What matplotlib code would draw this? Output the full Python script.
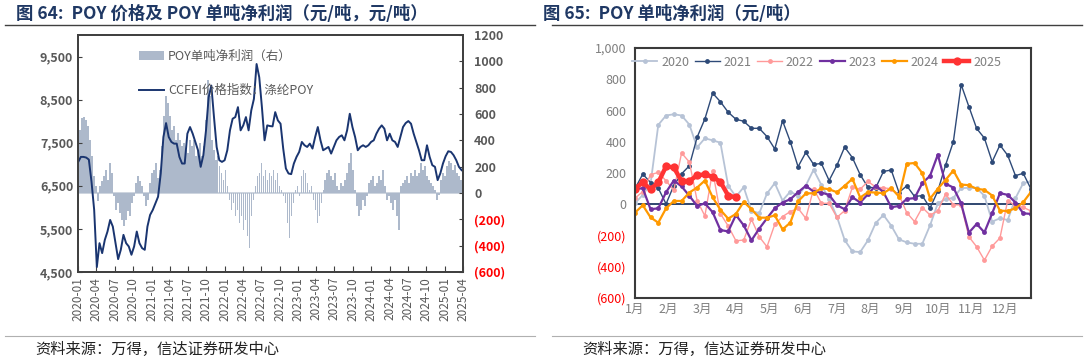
import numpy as np
import pandas as pd
import matplotlib
matplotlib.use("Agg")
import matplotlib.pyplot as plt
import matplotlib.dates as mdates
from matplotlib.lines import Line2D

plt.rcParams["font.family"] = ["Noto Sans CJK SC", "DejaVu Sans"]
plt.rcParams["axes.unicode_minus"] = False

# ---------------- 图64 数据：CCFEI 涤纶POY价格（元/吨），约半月一点
price = [7055, 7171, 7171, 7156, 7109, 6594, 5939, 4615, 5169, 4938, 5246, 5439,
         5708, 5554, 5169, 4799, 5015, 5362, 5169, 5092, 4900, 5092, 5439, 5169,
         5054, 5015, 5554, 5824, 5939, 6093, 6247, 6786, 7633, 7956, 7633, 7518,
         7479, 7479, 7171, 7017, 7017, 7710, 7864, 7710, 7518, 7325, 6940, 7210,
         7787, 8557, 8827, 8095, 7402, 7094, 7055, 7094, 7325, 7787, 8057, 8095,
         8326, 7787, 7903, 8095, 7787, 8249, 8518, 9327, 9019, 8326, 7556, 7903,
         7887, 7879, 8210, 8018, 7941, 7364, 6902, 6786, 6771, 7017, 7171, 7287,
         7518, 7441, 7402, 7479, 7364, 7633, 7864, 7556, 7325, 7364, 7402, 7248,
         7402, 7556, 7633, 7672, 7556, 7787, 8172, 7864, 7633, 7325, 7402, 7441,
         7402, 7441, 7518, 7556, 7710, 7825, 7903, 7825, 7556, 7710, 7556, 7518,
         7402, 7633, 7864, 7956, 8003, 7941, 7710, 7518, 7325, 7094, 7094, 7441,
         7171, 6979, 6940, 6632, 6786, 7017, 7186, 7302, 7287, 7210, 7094, 6940,
         6863]

# POY单吨净利润（元/吨，右轴），约10天一点
profit = [-51, 482, 570, 578, 558, 507, 406, 279, 127, 51, -63, 51,
          89, 127, 178, 101, 228, 152, -25, -127, -76, -152, -203, -254,
          -203, -140, -178, -76, -25, 76, 127, 89, 51, -25, -101, -51,
          76, 152, 178, 228, 114, 178, 355, 583, 735, 685, 583, 482,
          507, 406, 456, 406, 355, 380, 329, 304, 406, 355, 406, 279,
          329, 380, 279, 355, 558, 862, 735, 406, 329, 254, 279, 203,
          152, 101, 178, 51, -51, -127, -76, -178, -127, -228, -178, -279,
          -203, -330, -419, -178, -51, 51, 127, 152, 228, 127, 178, 101,
          152, 127, 178, 101, 152, 51, 25, -25, -76, -228, -342, -178,
          -76, 25, 51, -25, 127, 178, 152, 76, 25, 51, -51, -127,
          -228, -178, -76, 25, 101, 152, 178, 127, 101, 152, 51, 25,
          76, 51, 101, 152, 228, 304, 178, 25, -101, -178, -127, -51,
          -101, -25, 76, 101, 127, 51, 76, 127, 101, 178, 51, -51,
          -25, -76, -127, -51, -178, -279, 51, 76, 101, 127, 76, 152,
          127, 178, 127, 152, 228, 178, 203, 127, 101, 76, 51, 25,
          -51, -13, 101, 152, 127, 203, 241, 228, 178, 216, 152, 127,
          101, 51]

left_ticks = [4500, 5500, 6500, 7500, 8500, 9500]
left_ticklabels = ["4,500", "5,500", "6,500", "7,500", "8,500", "9,500"]
right_ticks = [-600, -400, -200, 0, 200, 400, 600, 800, 1000, 1200]
right_ticklabels = ["(600)", "(400)", "(200)", "0", "200", "400", "600", "800", "1000", "1200"]

# ---------------- 图65 数据：POY单吨净利润（元/吨），按周
y2020 = [6, 60, 130, 508, 568, 576, 568, 510, 364, 422, 409, 394, 118, 49, 109, -41,
         -58, 69, 135, 24, 81, 54, 120, 221, 124, 32,
         -79, -229, -302, -306, -231, -120, -69, -137, -225, -244, -253, -253, -135,
         6, 32, 41, 103, 105, 103, 54, -111, -90, -101, 39, 135, 146]
y2021 = [100, 193, 139, 103, 2, 120, 195, 246, 429, 546, 711, 656, 589, 544, 531, 486,
         486, 433, 354, 534, 401, 240, 332, 255, 261, 152, 249, 366, 298, 189, 109,
         105, 210, 219, 75, 118, 50, 55, -24, 85, 251, 400, 766, 625, 485, 423, 272,
         379, 313, 183, 198, 97]
y2022 = [39, 81, 189, 204, 150, 90, 328, 270, 24, -75, 214, -60, -139, -234, -229, -96,
         -208, -272, -129, -79, -47, -26, -90, 99, 6, 6,
         -84, -41, 109, 96, 146, 110, 105, 99, 60, -54, -111, -21, -69, -43, 66, -4,
         -4, -208, -272, -358, -268, -216, 24, -9, -20, -43]
y2023 = [96, 103, -32, -26, 77, 152, 114, 54, -11, 6, -51, -165, -174, -69, -135, -231,
         -156, -90, -26, 11, 32, 77, 118, 81, 75,
         60, -6, -32, 45, 11, 64, 120, 77, -19, -11, 34, 39, 135, 182, 317, 131, 107, 6,
         -182, -126, -180, -58, 71, 60, 11, -58, -62]
y2024 = [-54, -6, -84, -118, -26, 21, 21, 75, 107, 152, 45, -36, -92, -62, 15, -32,
         -86, -86, -71, -161, -118, 19, 69, 71, 103,
         96, 77, 118, 163, 43, 77, 75, 71, 103, 49, 259, 264, 199, 36, 99, 156, 216,
         126, 122, 99, 92, 56, -41, -43, -26, 13, 79]
y2025 = [100, 140, 96, 140, 242, 236, 147, 148, 185, 191, 176, 143, 56, 44]

years = ["2020", "2021", "2022", "2023", "2024", "2025"]
months = ["1月", "2月", "3月", "4月", "5月", "6月", "7月", "8月", "9月", "10月", "11月", "12月"]
r_ticks = [-600, -400, -200, 0, 200, 400, 600, 800, 1000]
r_ticklabels = ["(600)", "(400)", "(200)", "0", "200", "400", "600", "800", "1,000"]

NAVY = "#1f3864"
GRAY = "#595959"
RED = "#ff0000"

fig = plt.figure(figsize=(10.88, 3.61), dpi=100)

# ---------------- 标题、分隔线、来源
fig.text(16 / 1088, 1 - 14 / 361, "图 64:  POY 价格及 POY 单吨净利润（元/吨，元/吨）",
         fontsize=12.5, fontweight="bold", color=NAVY, va="center")
fig.text(543 / 1088, 1 - 14 / 361, "图 65:  POY 单吨净利润（元/吨）",
         fontsize=12.5, fontweight="bold", color=NAVY, va="center")
for x0, x1 in [(5, 535), (552, 1082)]:
    fig.add_artist(Line2D([x0 / 1088, x1 / 1088], [1 - 25 / 361] * 2, color="#404040", lw=1))
    fig.add_artist(Line2D([x0 / 1088, x1 / 1088], [1 - 336 / 361] * 2, color="#b0b0b0", lw=0.8))
fig.text(35 / 1088, 1 - 349 / 361, "资料来源：万得，信达证券研发中心", fontsize=11,
         color="#222222", va="center")
fig.text(582 / 1088, 1 - 349 / 361, "资料来源：万得，信达证券研发中心", fontsize=11,
         color="#222222", va="center")

# ---------------- 图64
ax = fig.add_axes([78 / 1088, 1 - 272 / 361, 385 / 1088, 237 / 361])
ax2 = ax.twinx()
d_price = pd.date_range("2020-01-02", "2025-03-25", periods=len(price))
d_profit = pd.date_range("2020-01-02", "2025-03-31", periods=len(profit))

ax2.bar(d_profit, profit, width=8, color="#adb9cb", linewidth=0,
        label="POY单吨净利润（右）")
ax2.axhline(0, color="#c5cdd9", lw=1.2, zorder=0)
ax.plot(d_price, price, color="#1a3570", lw=1.4, label="CCFEI价格指数：涤纶POY")

ax.set_zorder(ax2.get_zorder() + 1)
ax.patch.set_visible(False)

ax.set_xlim(pd.Timestamp("2020-01-01"), pd.Timestamp("2025-04-01"))
ax.set_ylim(4500, 10000)
ax2.set_ylim(-600, 1200)
ax.set_yticks(left_ticks)
ax.set_yticklabels(left_ticklabels)
ax2.set_yticks(right_ticks)
ax2.set_yticklabels(right_ticklabels)
for t, v in zip(ax2.get_yticklabels(), right_ticks):
    t.set_color(RED if v < 0 else GRAY)
    t.set_fontweight("bold")
for t in ax.get_yticklabels():
    t.set_color(GRAY)
    t.set_fontweight("bold")

ax.xaxis.set_major_locator(mdates.MonthLocator(bymonth=[1, 4, 7, 10]))
ax.xaxis.set_major_formatter(mdates.DateFormatter("%Y-%m"))
ax.tick_params(axis="x", direction="in", rotation=90, labelsize=8.5, labelcolor=GRAY,
               length=4, color="#404040")
ax.tick_params(axis="y", direction="in", labelsize=9, length=3, color="#404040")
ax2.tick_params(axis="y", direction="in", labelsize=9, length=3, color="#404040", pad=8)
for a in (ax, ax2):
    for s in a.spines.values():
        s.set_color("#404040")
        s.set_linewidth(1.3)

h1, l1 = ax2.get_legend_handles_labels()
h2, l2 = ax.get_legend_handles_labels()
ax.legend(h1 + h2, l1 + l2, loc="upper left", bbox_to_anchor=(0.13, 0.985),
          frameon=False, fontsize=9, labelspacing=1.7, handlelength=2.0,
          handletextpad=0.3, labelcolor=GRAY)

# ---------------- 图65
bx = fig.add_axes([635 / 1088, 1 - 298 / 361, 396 / 1088, 250 / 361])
weeks = np.arange(52)
styles = [
    (y2020, "#b7c3d6", 1.3, 3.5),
    (y2021, "#2e4a78", 1.0, 3.5),
    (y2022, "#ff9a9a", 1.0, 3.5),
    (y2023, "#7030a0", 1.6, 3.5),
    (y2024, "#ff9900", 1.6, 3.5),
    (y2025, "#ff3333", 3.2, 6),
]
for (vals, c, lw, ms), yr in zip(styles, years):
    bx.plot(weeks[:len(vals)], vals, color=c, lw=lw, marker="o", ms=ms,
            markeredgewidth=0, label=yr)
bx.axhline(0, color=NAVY, lw=1.3, zorder=1)

bx.set_xlim(0, 51)
bx.set_ylim(-600, 1000)
bx.set_xticks(np.arange(12) * 52 / 12)
bx.set_xticklabels(months)
bx.set_yticks(r_ticks)
bx.set_yticklabels(r_ticklabels)
bx.tick_params(axis="both", length=0, labelsize=9, labelcolor="#7f7f7f")
bx.tick_params(axis="y", pad=6)
for t, v in zip(bx.get_yticklabels(), r_ticks):
    t.set_color(RED if v < 0 else "#7f7f7f")
for s in bx.spines.values():
    s.set_color("#3a3a3a")
    s.set_linewidth(1.5)
bx.legend(loc="upper left", bbox_to_anchor=(-0.035, 1.015), ncol=6, frameon=False,
          fontsize=9, handlelength=2.0, columnspacing=0.45, handletextpad=0.3,
          labelcolor="#7f7f7f")

fig.savefig("out.png", dpi=100)
